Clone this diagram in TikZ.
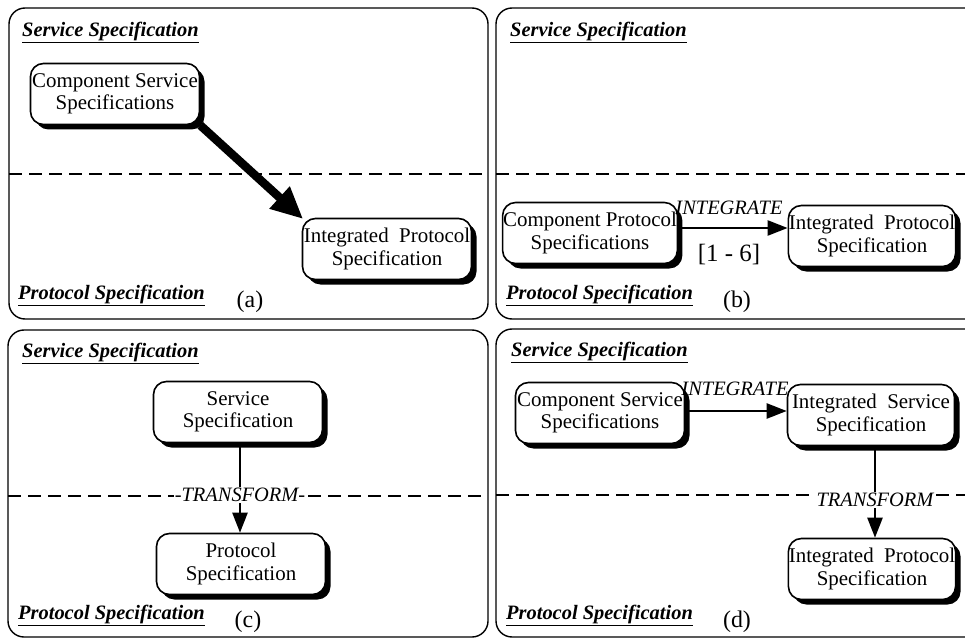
\documentclass[tikz,border=0pt]{standalone}
\usepackage{fontspec}
\setmainfont{Liberation Serif}
\usetikzlibrary{arrows.meta,shadows,backgrounds}
\tikzset{
  panel/.style={draw, line width=1.4bp, rounded corners=16bp},
  divide/.style={line width=1.4bp, dash pattern=on 13bp off 7bp},
  spec/.style={draw, line width=1.6bp, rounded corners=13bp, fill=white,
    drop shadow={shadow xshift=5bp, shadow yshift=-5bp, fill=black, opacity=1},
    minimum width=169bp, minimum height=61bp, align=center, inner sep=0.5bp,
    font=\fontsize{21}{22.5}\selectfont},
  title/.style={anchor=west, inner sep=0pt, font=\fontsize{20.5}{24}\selectfont\bfseries\itshape},
  sub/.style={inner sep=0pt, font=\fontsize{24}{28}\selectfont},
  oplabel/.style={inner sep=1bp, fill=white, font=\fontsize{20.5}{24}\selectfont\itshape},
  arr/.style={line width=2.4bp, -{Triangle[length=20bp,width=15bp]}},
  bigarr/.style={line width=8.5bp, -{Triangle[length=32bp,width=28bp]}},
}
\begin{document}
\begin{tikzpicture}[x=1bp,y=-1bp]
\useasboundingbox (0,0) rectangle (965,639);
\clip (0,0) rectangle (965,639);
% panels
\draw[panel] (9,8) rectangle (488,319);
\draw[panel] (496,8) rectangle (985,319);
\draw[panel] (8,330) rectangle (488,637);
\draw[panel] (496,329) rectangle (985,637);
% dividers
\draw[divide] (9,174) -- (488,174);
\draw[divide] (496,174) -- (965,174);
\draw[divide] (8,496) -- (488,496);
\draw[divide] (496,495) -- (965,495);
% titles
\node[title] (ta1) at (22,32) {\underline{Service Specification}};
\node[title] (tb1) at (510,32) {\underline{Service Specification}};
\node[title] (tc1) at (22,353) {\underline{Service Specification}};
\node[title] (td1) at (511,352) {\underline{Service Specification}};
\node[title] (ta2) at (18,295) {\underline{Protocol Specification}};
\node[title] (tb2) at (506,295) {\underline{Protocol Specification}};
\node[title] (tc2) at (18,615) {\underline{Protocol Specification}};
\node[title] (td2) at (506,615) {\underline{Protocol Specification}};
\node[sub] (la) at (250,302) {(a)};
\node[sub] (lb) at (737,302) {(b)};
\node[sub] (lc) at (248,622) {(c)};
\node[sub] (ld) at (737,622) {(d)};
% panel (a)
\node[spec] (a1) at (115,94) {Component Service\\Specifications};
\node[spec] (a2) at (387,249) {Integrated\ \ Protocol\\Specification};
\begin{pgfonlayer}{background}
\draw[bigarr, shorten >=-2bp] (a1.south east) -- (a2.north west);
\end{pgfonlayer}
% panel (b)
\node[spec] (b1) at (590,233) {Component Protocol\\Specifications};
\node[spec, minimum width=166bp] (b2) at (872,236) {Integrated\ \ Protocol\\Specification};
\coordinate (yb) at (0,228);
\draw[arr] (b1.east |- yb) -- (b2.west |- yb);
\node[oplabel, fill=none] (bi) at (729,208) {INTEGRATE};
\node[sub, font=\fontsize{25}{28}\selectfont] (br) at (729,255) {[1 - 6]};
% panel (c)
\node[spec] (c1) at (238,412) {Service\\Specification};
\node[spec] (c2) at (241,564) {Protocol\\Specification};
\node[oplabel] (ct) at (240,495) {-TRANSFORM-};
\draw[line width=2.4bp] (c1.south -| ct) -- (ct.north);
\draw[arr] (ct.south) -- (c2.north -| ct);
% panel (d)
\node[spec] (d1) at (600,413) {Component Service\\Specifications};
\node[spec, minimum width=167bp] (d2) at (871,415) {Integrated\ \ Service\\Specification};
\node[spec, minimum width=166bp] (d3) at (872,569) {Integrated\ \ Protocol\\Specification};
\coordinate (yd) at (0,411);
\draw[arr] (d1.east |- yd) -- (d2.west |- yd);
\node[oplabel, fill=none] (di) at (735,389) {INTEGRATE};
\node[oplabel] (dt) at (875,500) {TRANSFORM};
\draw[line width=2.4bp] (d2.south -| dt) -- (dt.north);
\draw[arr] (dt.south) -- (d3.north -| dt);
\end{tikzpicture}
\end{document}
